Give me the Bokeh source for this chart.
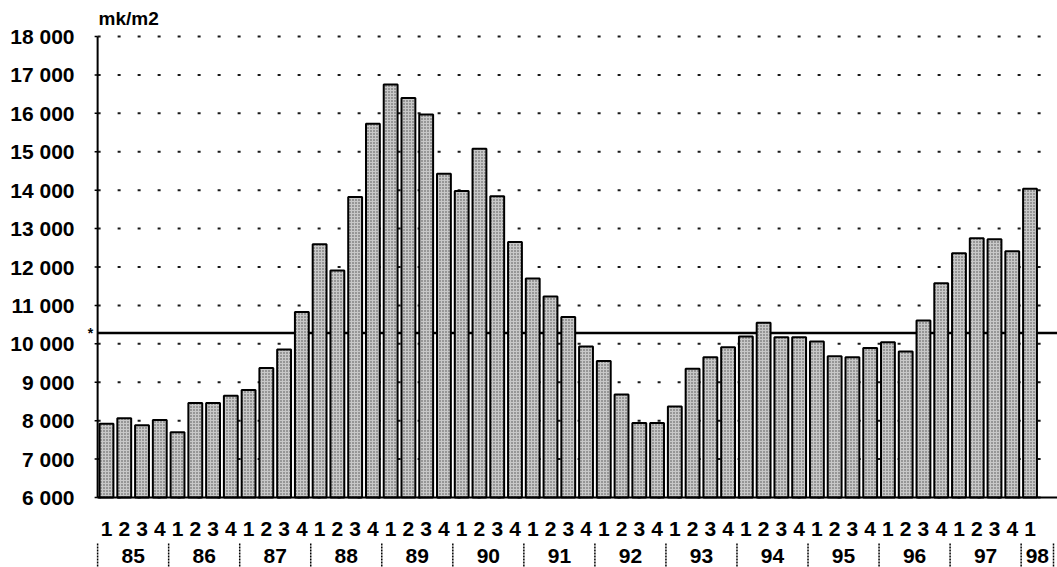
from bokeh.plotting import figure
from bokeh.models import Range1d, FixedTicker, ColumnDataSource
from bokeh.core.properties import value
from bokeh.embed import file_html
from bokeh.resources import INLINE

# ---- data ----
years = ["85", "86", "87", "88", "89", "90", "91", "92", "93", "94", "95", "96", "97", "98"]
quarters = ["1", "2", "3", "4"] * 13 + ["1"]
prices = [7920, 8060, 7880, 8020,
          7700, 8460, 8460, 8650,
          8800, 9370, 9850, 10830,
          12590, 11910, 13820, 15730,
          16750, 16400, 15970, 14430,
          13980, 15080, 13840, 12650,
          11700, 11230, 10700, 9930,
          9550, 8680, 7940, 7940,
          8370, 9350, 9650, 9910,
          10190, 10550, 10170, 10170,
          10060, 9680, 9650, 9890,
          10040, 9800, 10610, 11580,
          12360, 12750, 12720, 12410,
          14040]
reference_level = 10280
y_ticks = list(range(6000, 18001, 1000))
unit_label = "mk/m2"

# ---- layout (page pixels) ----
W, H = 1057, 567
frame_left_px = 80
y_hi_px, y_lo_px = 36, 497            # where top / bottom tick sit
px_per_unit = (y_lo_px - y_hi_px) / (y_ticks[-1] - y_ticks[0])
y_start = y_ticks[0] - (H - y_lo_px) / px_per_unit
y_end = y_ticks[-1] + y_hi_px / px_per_unit

def py(page_y):
    return y_ticks[0] + (y_lo_px - page_y) / px_per_unit

bar_step_px, first_bar_px = 17.76, 106
def pxu(page_x):
    return (page_x - first_bar_px) / bar_step_px

n = len(prices)
x_start, x_end = pxu(frame_left_px), pxu(W)
axis_x = -0.5
FONT = "Liberation Sans"

p = figure(width=W, height=H, output_backend="svg", toolbar_location=None,
           x_range=Range1d(x_start, x_end), y_range=Range1d(y_start, y_end),
           x_axis_type=None, min_border_left=frame_left_px, min_border_right=0,
           min_border_top=0, min_border_bottom=0)
p.outline_line_color = None
p.background_fill_color = "white"
p.border_fill_color = "white"
p.xgrid.grid_line_color = None
p.ygrid.grid_line_color = None

# y axis: labels only (line and ticks drawn below)
ya = p.yaxis[0]
ya.ticker = FixedTicker(ticks=y_ticks)
ya.major_label_overrides = {t: f"{t:,}".replace(",", " ") for t in y_ticks}
ya.major_label_text_font = FONT
ya.major_label_text_font_style = "bold"
ya.major_label_text_font_size = "21px"
ya.major_label_text_color = "black"
ya.major_label_standoff = 6
ya.major_tick_out = 0
ya.major_tick_in = 0
ya.major_tick_line_color = None
ya.minor_tick_line_color = None
ya.axis_line_color = None

# dotted grid lines
p.segment(x0=[axis_x] * len(y_ticks), x1=[x_end] * len(y_ticks), y0=y_ticks, y1=y_ticks,
          line_color="#1a1a1a", line_width=2, line_dash="3 17")

# reference line (behind bars)
p.segment(x0=[axis_x], x1=[x_end], y0=[reference_level], y1=[reference_level],
          line_color="black", line_width=2.5)

# bars
src = ColumnDataSource(dict(x=list(range(n)), top=prices, q=quarters))
p.vbar(x="x", top="top", bottom=y_ticks[0], width=0.78, source=src,
       fill_color="#c8c8c8", line_color="black", line_width=2,
       hatch_pattern="dot", hatch_color="#4a4a4a", hatch_scale=3, hatch_weight=1)

# axis lines and ticks
p.segment(x0=[axis_x], x1=[x_end], y0=[y_ticks[0]], y1=[y_ticks[0]],
          line_color="black", line_width=2)
p.segment(x0=[axis_x], x1=[axis_x], y0=[y_ticks[0]], y1=[y_ticks[-1]],
          line_color="black", line_width=2)
p.segment(x0=[axis_x - 3 / bar_step_px] * len(y_ticks), x1=[axis_x] * len(y_ticks),
          y0=y_ticks, y1=y_ticks, line_color="black", line_width=1.5)

# quarter labels
p.text(x="x", y=py(528), text="q", source=src, text_align="center",
       text_baseline="middle", text_font=value(FONT), text_font_style="bold",
       text_font_size="21px", text_color="black")

# year labels and separators
bounds = [-0.5 + 4 * k for k in range(len(years))] + [pxu(1053)]
centers = [(bounds[k] + bounds[k + 1]) / 2 for k in range(len(years))]
p.text(x=centers, y=[py(555)] * len(years), text=years, text_align="center",
       text_baseline="middle", text_font=value(FONT), text_font_style="bold",
       text_font_size="21px", text_color="black")
p.segment(x0=bounds, x1=bounds, y0=[py(543)] * len(bounds), y1=[y_start] * len(bounds),
          line_color="black", line_width=1.5, line_dash="2 1")

# unit label and asterisk
p.text(x=[axis_x + 0.05], y=[py(18)], text=[unit_label], text_align="left",
       text_baseline="middle", text_font=value(FONT), text_font_style="bold",
       text_font_size="19px", text_color="black")
p.text(x=[pxu(90)], y=[reference_level], text=["*"], text_align="center",
       text_baseline="middle", text_font=value(FONT), text_font_style="bold",
       text_font_size="14px", text_color="black")

open("out.html", "w").write(file_html(p, INLINE))
